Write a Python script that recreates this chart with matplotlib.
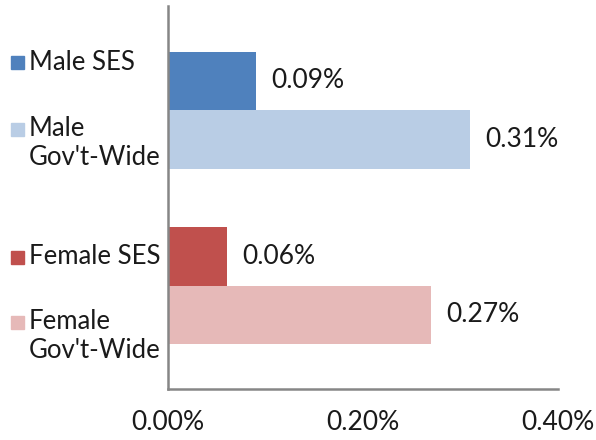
import matplotlib.pyplot as plt
from matplotlib.patches import Rectangle
from matplotlib.ticker import FuncFormatter

plt.rcParams['font.family'] = ['Lato', 'DejaVu Sans']

# separation rates, percent
labels = ["Male SES", "Male\nGov't-Wide", "Female SES", "Female\nGov't-Wide"]
values = [0.09, 0.31, 0.06, 0.27]
colors = ['#4F81BD', '#B9CDE5', '#C0504D', '#E6B9B8']
ypos = [4, 3, 1, 0]
xticks = [0.0, 0.2, 0.4]

fig = plt.figure(figsize=(5.96, 4.40), dpi=100)
ax = fig.add_axes([168 / 596, 51 / 440, 390 / 596, 383 / 440])

ax.barh(ypos, values, height=1.0, color=colors)
for y, v in zip(ypos, values):
    ax.annotate(f"{v:.2f}%", (v, y), xytext=(11, 0), textcoords='offset points',
                va='center', ha='left', fontsize=19, color='#1a1a1a')

ax.set_xlim(0, 0.4)
ax.set_ylim(-1.27, 5.28)
ax.set_xticks(xticks)
ax.xaxis.set_major_formatter(FuncFormatter(lambda v, p: f"{v:.2f}%"))
ax.tick_params(axis='x', length=0, pad=15, labelsize=19, labelcolor='#1a1a1a')
ax.set_yticks([])
for s in ['top', 'right']:
    ax.spines[s].set_visible(False)
for s in ['left', 'bottom']:
    ax.spines[s].set_color('#868686')
    ax.spines[s].set_linewidth(1.8)

# legend on the left, square marker next to first text line
leg_y = [63, 129, 257, 322]
for lab, c, yp in zip(labels, colors, leg_y):
    fy = 1 - yp / 440
    fig.patches.append(Rectangle((11 / 596, fy - 6.5 / 440), 13 / 596, 13 / 440,
                                 transform=fig.transFigure, color=c))
    fig.text(29 / 596, fy + 13 / 440, lab, ha='left', va='top', fontsize=18.5,
             color='#1a1a1a', linespacing=1.2)

fig.savefig('out.png', dpi=100)
